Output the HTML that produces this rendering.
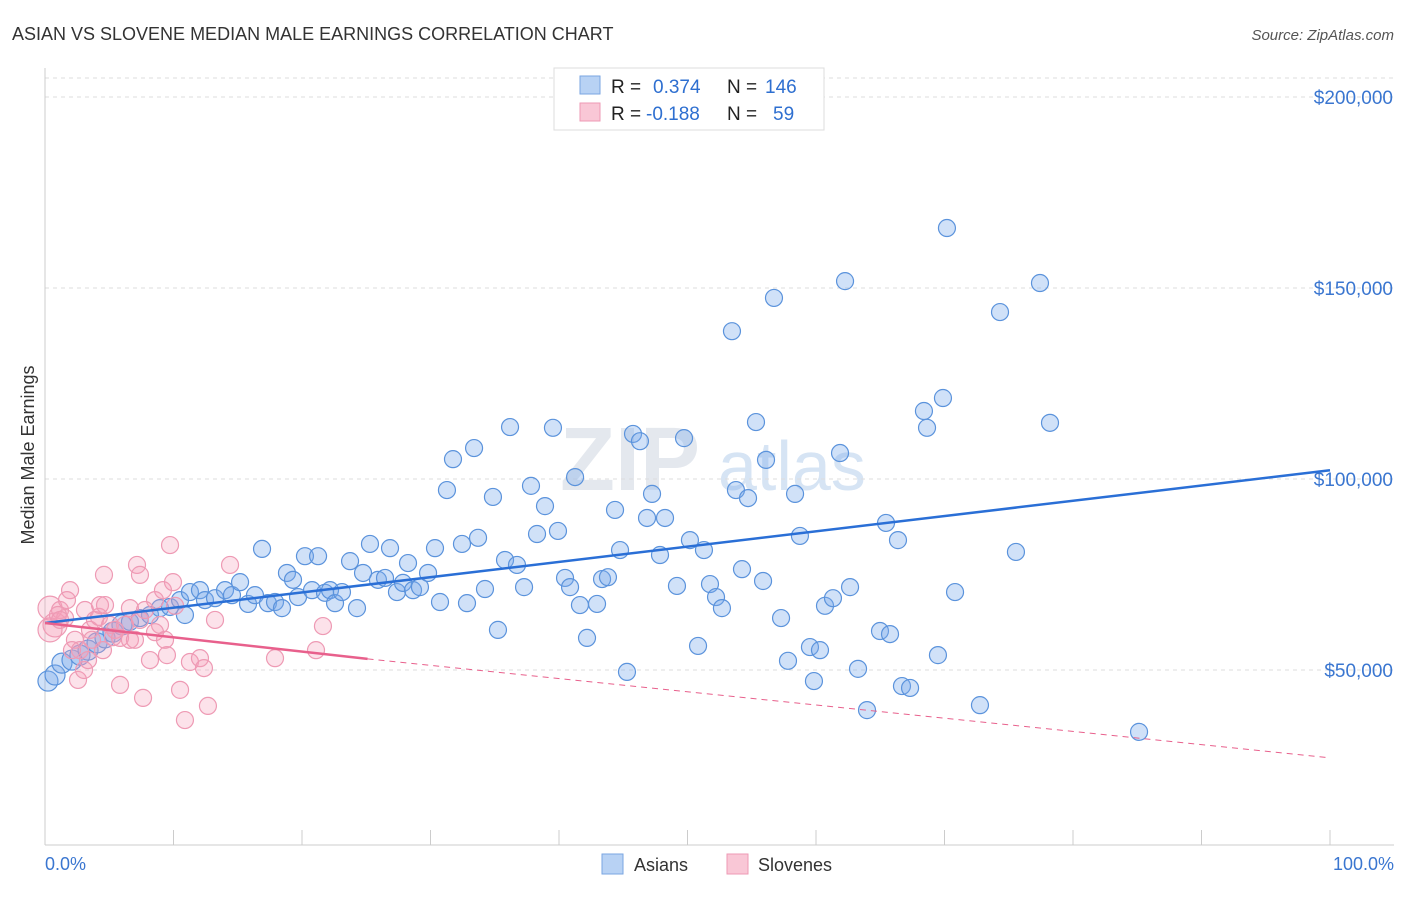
<!DOCTYPE html>
<html><head><meta charset="utf-8"><style>
body{margin:0;background:#fff;font-family:"Liberation Sans",sans-serif}
svg text{font-family:"Liberation Sans",sans-serif}
</style></head><body>
<svg id="c" width="1406" height="892">
<text x="12" y="40" font-size="18" fill="#333">ASIAN VS SLOVENE MEDIAN MALE EARNINGS CORRELATION CHART</text>
<text x="1394" y="40" font-size="15" fill="#555" text-anchor="end" font-style="italic">Source: ZipAtlas.com</text>
<text x="560" y="490" font-size="90" fill="#e4e8ee" font-family="Liberation Serif" font-weight="bold">ZIP</text>
<text x="718" y="490" font-size="70" fill="#d6e4f4">atlas</text>
<g id="grid"></g>
<g id="pts"></g>
<g id="lines"></g>
<text x="34" y="455" font-size="18" fill="#333" text-anchor="middle" transform="rotate(-90 34 455)">Median Male Earnings</text>
<text x="45" y="870" font-size="18" fill="#3a76d0">0.0%</text>
<text x="1394" y="870" font-size="18" fill="#3a76d0" text-anchor="end">100.0%</text>
<g>
<rect x="554" y="68" width="270" height="62" fill="#fff" stroke="#ddd"/>
<rect x="580" y="76" width="20" height="18" fill="#b8d2f4" stroke="#7aa6e2"/>
<rect x="580" y="103" width="20" height="18" fill="#f9c7d6" stroke="#ee9ab4"/>
<text x="611" y="93" font-size="19" fill="#222">R =</text><text x="653" y="93" font-size="19" fill="#2e6fd0">0.374</text>
<text x="727" y="93" font-size="19" fill="#222">N =</text><text x="765" y="93" font-size="19" fill="#2e6fd0">146</text>
<text x="611" y="120" font-size="19" fill="#222">R =</text><text x="646" y="120" font-size="19" fill="#2e6fd0">-0.188</text>
<text x="727" y="120" font-size="19" fill="#222">N =</text><text x="773" y="120" font-size="19" fill="#2e6fd0">59</text>
</g>
<g>
<rect x="602" y="854" width="21" height="20" fill="#b8d2f4" stroke="#7aa6e2"/>
<text x="634" y="871" font-size="18" fill="#333">Asians</text>
<rect x="727" y="854" width="21" height="20" fill="#f9c7d6" stroke="#ee9ab4"/>
<text x="758" y="871" font-size="18" fill="#333">Slovenes</text>
</g>
</svg>
<script>
const yTicks=[50,100,150,200];
const yTickLabels=["$50,000","$100,000","$150,000","$200,000"];
const asianPx=[[48,681],[55,675],[62,663],[72,660],[80,655],[88,650],[97,643],[105,638],[113,632],[122,625],[130,622],[140,618],[150,615],[160,608],[170,607],[180,600],[185,615],[190,592],[200,590],[205,600],[215,598],[225,590],[232,595],[240,582],[248,604],[255,595],[262,549],[268,603],[275,602],[282,608],[287,573],[293,580],[298,597],[305,556],[312,590],[318,556],[325,593],[330,590],[335,603],[342,592],[350,561],[357,608],[363,573],[370,544],[378,580],[385,578],[390,548],[397,592],[403,583],[408,563],[413,590],[420,587],[428,573],[435,548],[440,602],[447,490],[453,459],[462,544],[467,603],[474,448],[478,538],[485,589],[493,497],[498,630],[505,560],[510,427],[517,565],[524,587],[531,486],[537,534],[545,506],[553,428],[558,531],[565,578],[570,587],[575,477],[580,605],[587,638],[597,604],[602,579],[608,577],[615,510],[620,550],[627,672],[633,434],[640,441],[647,518],[652,494],[660,555],[665,518],[677,586],[684,438],[690,540],[698,646],[704,550],[710,584],[716,597],[722,608],[732,331],[736,490],[742,569],[748,498],[756,422],[763,581],[766,460],[774,298],[781,618],[788,661],[795,494],[800,536],[810,647],[814,681],[820,650],[825,606],[833,598],[840,453],[845,281],[850,587],[858,669],[867,710],[880,631],[886,523],[890,634],[898,540],[902,686],[910,688],[924,411],[927,428],[938,655],[943,398],[947,228],[955,592],[980,705],[1000,312],[1016,552],[1040,283],[1050,423],[1139,732]];
const slovenePx=[[50,608],[55,625],[60,610],[65,618],[70,590],[75,640],[80,650],[85,610],[90,630],[95,620],[99,617],[100,605],[103,650],[110,625],[113,637],[115,630],[120,638],[125,625],[130,640],[135,640],[137,565],[140,620],[143,698],[150,660],[155,600],[160,625],[163,590],[167,655],[170,545],[173,582],[180,690],[185,720],[190,662],[200,658],[204,668],[208,706],[215,620],[230,565],[275,658],[316,650],[323,626],[50,630],[58,615],[67,600],[72,650],[78,680],[84,670],[88,660],[92,640],[105,605],[120,685],[130,608],[140,575],[155,632],[165,640],[175,606],[104,575],[145,610],[60,620]];
// convert to data: x in %, y in $k
const asianX=asianPx.map(p=>+((p[0]-45)/12.85).toFixed(2));
const asianY=asianPx.map(p=>+((861-p[1])/3.82).toFixed(1));
const sloveneX=slovenePx.map(p=>+((p[0]-45)/12.85).toFixed(2));
const sloveneY=slovenePx.map(p=>+((861-p[1])/3.82).toFixed(1));
const X=v=>45+v*12.85, Y=v=>861-v*3.82;
const NS="http://www.w3.org/2000/svg";
function mk(t,a,parent){const e=document.createElementNS(NS,t);for(const k in a)e.setAttribute(k,a[k]);document.getElementById(parent).appendChild(e);return e;}
yTicks.forEach((t,i)=>{
 const l=mk('line',{x1:45,x2:1394,y1:Y(t),y2:Y(t),stroke:'#ddd','stroke-dasharray':'4,4'},'grid');
 
 
 const tx=mk('text',{x:1393,y:Y(t)+7,'font-size':19,fill:'#3a76d0','text-anchor':'end'},'grid');tx.textContent=yTickLabels[i];
 
 
});
mk('line',{x1:45,x2:1394,y1:78,y2:78,stroke:'#ddd','stroke-dasharray':'4,4'},'grid');
mk('line',{x1:45,x2:45,y1:68,y2:845,stroke:'#ccc'},'grid');
mk('line',{x1:45,x2:1394,y1:845,y2:845,stroke:'#ccc'},'grid');
for(let i=0;i<=10;i++){const t=mk('line',{x1:X(i*10),x2:X(i*10),y1:830,y2:845,stroke:'#ccc'},'grid');}
asianX.forEach((x,i)=>{const c=mk('circle',{cx:X(x),cy:Y(asianY[i]),r:x<6?10:8.5,fill:'rgba(120,170,235,0.35)',stroke:'#5b93dc','stroke-width':1.2},'pts');
 
 });
sloveneX.forEach((x,i)=>{const c=mk('circle',{cx:X(x),cy:Y(sloveneY[i]),r:x<1?12:8.5,fill:'rgba(245,160,185,0.3)',stroke:'#ee9ab4','stroke-width':1.2},'pts');
 
 });
const bl=mk('line',{x1:X(0),y1:Y(62.3),x2:X(100),y2:Y(102.3),stroke:'#2a6fd6','stroke-width':2.5},'lines');

const pl=mk('line',{x1:X(0),y1:Y(62.3),x2:X(25.1),y2:Y(52.9),stroke:'#e8608c','stroke-width':2.5},'lines');

const pd=mk('line',{x1:X(25.1),y1:Y(52.9),x2:X(100),y2:Y(27),stroke:'#e8608c','stroke-width':1,'stroke-dasharray':'6,5'},'lines');

</script>
</body></html>
